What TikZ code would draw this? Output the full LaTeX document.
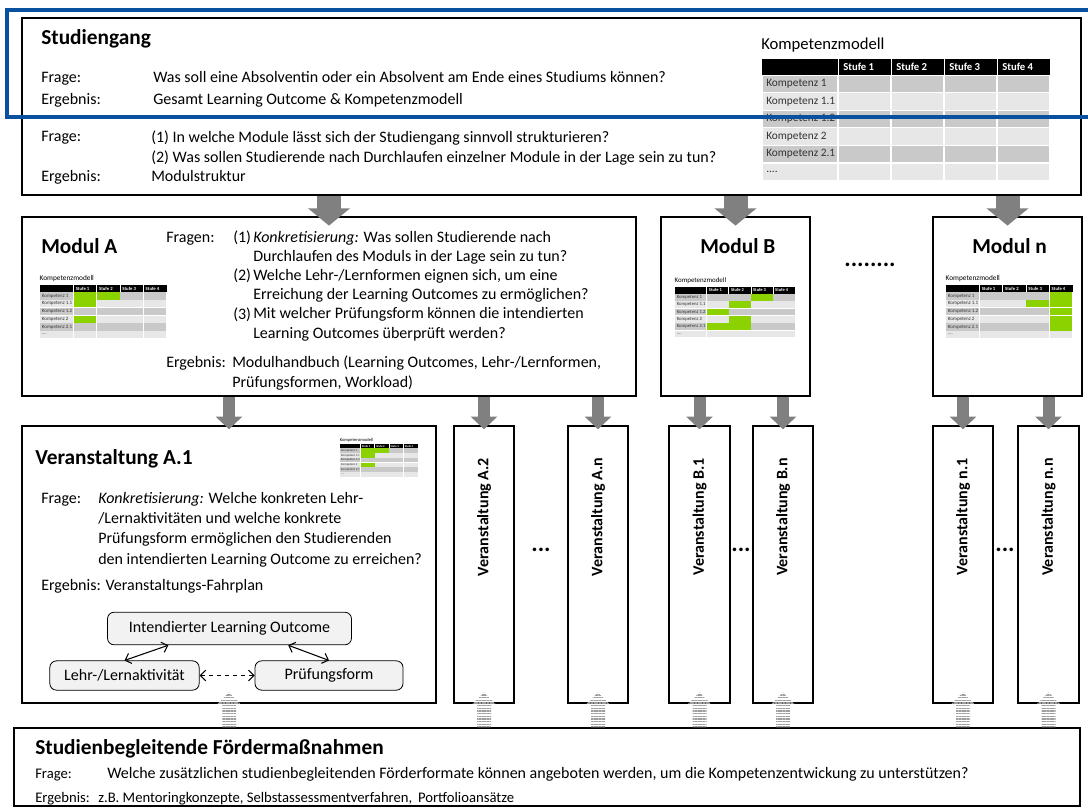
\documentclass[tikz,border=0pt]{standalone}
\usepackage{fontspec}
\setmainfont{Carlito}
\usepackage{tikz}
\usetikzlibrary{positioning, arrows.meta, fit, calc, patterns.meta}
\definecolor{pfeilgrau}{RGB}{128,128,128}
\definecolor{zelleDunkel}{RGB}{201,201,201}
\definecolor{zelleHell}{RGB}{231,231,231}
\definecolor{gruen}{RGB}{140,210,0}
\definecolor{blaurand}{RGB}{10,80,160}
\tikzset{
    kasten/.style     = {draw, line width=1.1pt, inner sep=0pt},
    txt/.style        = {inner sep=0pt, anchor=base west, align=left,
                         font=\fontsize{12}{14.4}\selectfont},
    klein/.style      = {txt, font=\fontsize{11}{13}\selectfont},
    titel/.style      = {inner sep=0pt, anchor=base west,
                         font=\bfseries\fontsize{16}{19}\selectfont},
    hochkant/.style   = {inner sep=0pt, rotate=90,
                         font=\bfseries\fontsize{12}{14}\selectfont},
    punkte/.style     = {inner sep=0pt, font=\bfseries\fontsize{18}{18}\selectfont},
    grosspfeil/.style = {draw=pfeilgrau, line width=18pt,
                         -{Triangle[length=13pt, width=31pt]}, shorten >=-7pt},
    kleinpfeil/.style = {draw=pfeilgrau, line width=9pt,
                         -{Triangle[length=9.5pt, width=19.5pt]}, shorten >=-3pt},
    streifen/.style   = {pattern={Lines[angle=0, distance=2pt, line width=1.1pt]},
                         pattern color=black!38},
    rund/.style       = {draw, rounded corners=5pt, fill=black!5, line width=0.6pt,
                         font=\fontsize{12}{14}\selectfont},
    wechsel/.style    = {{Straight Barb[length=4pt]}-{Straight Barb[length=4pt]}, line width=0.8pt}
}
\newcommand{\punktzeile}{....}
% Kompetenzmodell-Tabelle: Position, Skalierung, gruene Zellen (zeile/spalte)
\newcommand{\kompmodell}[3]{%
  \begin{scope}[shift={(#1)}, scale=#2, transform shape]
    \node[anchor=base west, inner sep=0pt, font=\fontsize{12.5}{14}\selectfont] (km) at (-1,-10) {Kompetenzmodell};
    \fill[black] (0,0) rectangle (288,16);
    \foreach \spalte in {1,2,3,4} {
      \draw[white, line width=0.6pt] ({76+(\spalte-1)*53},0) -- ++(0,16);
      \node[anchor=west, inner sep=0pt, text=white, font=\bfseries\fontsize{8}{9}\selectfont]
        at ({76+(\spalte-1)*53+5},8) {Stufe \spalte};
    }
    \foreach \lab [count=\zeile] in {Kompetenz 1, Kompetenz 1.1, Kompetenz 1.2, Kompetenz 2, Kompetenz 2.1, \punktzeile} {
      \ifodd\zeile \def\zf{zelleDunkel}\else \def\zf{zelleHell}\fi
      \fill[fill=\zf] (0.6,{16+(\zeile-1)*17.6+0.6}) rectangle (75.4,{16+\zeile*17.6-0.6});
      \foreach \spalte in {1,2,3,4}
        \fill[fill=\zf] ({76+(\spalte-1)*53+0.6},{16+(\zeile-1)*17.6+0.6}) rectangle ({76+\spalte*53-0.6},{16+\zeile*17.6-0.6});
      \node[anchor=west, inner sep=0pt, text=black!80, font=\fontsize{8.5}{9}\selectfont]
        at (4,{16+(\zeile-0.5)*17.6}) {\lab};
    }
    \if\relax\detokenize{#3}\relax\else
    \foreach \zeile/\spalte in {#3}
      \fill[gruen] ({76+(\spalte-1)*53+0.6},{16+(\zeile-1)*17.6+0.6}) rectangle ({76+\spalte*53-0.6},{16+\zeile*17.6-0.6});
    \fi
  \end{scope}}

\begin{document}
\begin{tikzpicture}[x=0.75pt, y=-0.75pt]
    \useasboundingbox (0,0) rectangle (1088,807);

    % Studiengang
    \node[kasten, fit={(22,18) (1081,195)}] (studiengang) {};
    \node[titel] (tStudiengang) at (41,44) {Studiengang};
    \node[txt] (fr1) at (41,82)  {Frage:};
    \node[txt] (er1) at (41,104) {Ergebnis:};
    \node[txt] (fr1t) at (153,82)  {Was soll eine Absolventin oder ein Absolvent am Ende eines Studiums können?};
    \node[txt] (er1t) at (153,104) {Gesamt Learning Outcome \& Kompetenzmodell};
    \node[txt] (fr2) at (41,141) {Frage:};
    \node[txt] (er2) at (41,181) {Ergebnis:};
    % Basis eines mehrzeiligen Knotens = letzte Zeile
    \node[txt, font=\fontsize{12}{15}\selectfont] (fr2t) at (151,162)
        {(1) In welche Module lässt sich der Studiengang sinnvoll strukturieren?\\
         (2) Was sollen Studierende nach Durchlaufen einzelner Module in der Lage sein zu tun?};
    \node[txt] (er2t) at (151,181) {Modulstruktur};
    \kompmodell{762,59}{1}{}

    % Modul A
    \node[kasten, fit={(22,217) (636,396)}] (modulA) {};
    \node[titel] (tModulA) at (41,253) {Modul A};
    \kompmodell{40,285}{0.44}{1/1,1/2,2/1,4/1}
    \node[txt] (frA) at (166,242) {Fragen:};
    \node[txt] (nrA) at (233,319) {(1)\\ \\(2)\\ \\(3)};
    \node[txt] (frAt) at (253,338)
        {\textit{Konkretisierung:} Was sollen Studierende nach\\
         Durchlaufen des Moduls in der Lage sein zu tun?\\
         Welche Lehr-/Lernformen eignen sich, um eine\\
         Erreichung der Learning Outcomes zu ermöglichen?\\
         Mit welcher Prüfungsform können die intendierten\\
         Learning Outcomes überprüft werden?};
    \node[txt] (erA) at (166,367) {Ergebnis:};
    \node[txt, font=\fontsize{12}{15}\selectfont] (erAt) at (232,387)
        {Modulhandbuch (Learning Outcomes, Lehr-/Lernformen,\\Prüfungsformen, Workload)};

    % Modul B und Modul n
    \node[kasten, fit={(661,217) (810,396)}] (modulB) {};
    \node[titel] (tModulB) at (700,253) {Modul B};
    \kompmodell{675,287}{0.417}{1/3,2/2,3/1,4/2,5/1,5/2}
    \node[punkte] (pktMod) at (870,265) {........};
    \node[kasten, fit={(933,217) (1082,396)}] (moduln) {};
    \node[titel] (tModuln) at (972,253) {Modul n};
    \kompmodell{946,285}{0.44}{1/4,2/3,2/4,3/4,4/4,5/4}

    % Veranstaltung A.1
    \node[kasten, fit={(22,426) (436,703)}] (va1) {};
    \node[titel] (tVa1) at (35,464) {Veranstaltung A.1};
    \kompmodell{340,444}{0.27}{1/1,1/2,2/1,4/1}
    \node[txt] (frV) at (41,503) {Frage:};
    \node[txt, font=\fontsize{12}{15.2}\selectfont] (frVt) at (98,564)
        {\textit{Konkretisierung:} Welche konkreten Lehr-\\
         /Lernaktivitäten und welche konkrete\\
         Prüfungsform ermöglichen den Studierenden\\
         den intendierten Learning Outcome zu erreichen?};
    \node[txt] (erV) at (41,590) {Ergebnis: Veranstaltungs-Fahrplan};
    \node[rund, minimum width=183pt, minimum height=24.5pt] (lo)   at (229.5,628.5) {Intendierter Learning Outcome};
    \node[rund, minimum width=112pt, minimum height=22pt]   (lehr) at (124.5,675.5) {Lehr-/Lernaktivität};
    \node[rund, minimum width=111pt, minimum height=22pt]   (prf)  at (329,675.5)   {Prüfungsform};
    \draw[wechsel] (lehr.north) -- ($(lo.south west)!0.25!(lo.south east)$);
    \draw[wechsel] ($(lo.south west)!0.74!(lo.south east)$) -- (prf.north);
    \draw[wechsel, dashed] (lehr.east) -- (prf.west);

    % weitere Veranstaltungen
    \node[kasten, fit={(454,426) (514,703)}]  (va2) {};
    \node[kasten, fit={(568,426) (628,703)}]  (van) {};
    \node[kasten, fit={(669,426) (730,703)}]  (vb1) {};
    \node[kasten, fit={(753,426) (813,703)}]  (vbn) {};
    \node[kasten, fit={(933,426) (993,703)}]  (vn1) {};
    \node[kasten, fit={(1018,426) (1079,703)}] (vnn) {};
    \node[hochkant] at (va2.center |- 0,517) {Veranstaltung A.2};
    \node[hochkant] at (van.center |- 0,517) {Veranstaltung A.n};
    \node[hochkant] at (vb1.center |- 0,517) {Veranstaltung B.1};
    \node[hochkant] at (vbn.center |- 0,517) {Veranstaltung B.n};
    \node[hochkant] at (vn1.center |- 0,517) {Veranstaltung n.1};
    \node[hochkant] at (vnn.center |- 0,517) {Veranstaltung n.n};
    \node[punkte] (pktA) at (541,550)  {...};
    \node[punkte] (pktB) at (741,550)  {...};
    \node[punkte] (pktN) at (1005,550) {...};

    % Studienbegleitende Foerdermassnahmen
    \node[kasten, fit={(14,728) (1080,806)}] (foerder) {};
    \node[titel] (tFoerder) at (35,754) {Studienbegleitende Fördermaßnahmen};
    \node[klein] (frF) at (35,778) {Frage:};
    \node[txt] (frFt) at (107,778)
        {Welche zusätzlichen studienbegleitenden Förderformate können angeboten werden, um die Kompetenzentwickung zu unterstützen?};
    \node[klein] (erF) at (35,802) {Ergebnis:};
    \node[klein] (erFt) at (98,802) {z.B. Mentoringkonzepte, Selbstassessmentverfahren,\, Portfolioansätze};

    % Pfeile Studiengang -> Module
    \draw[grosspfeil] (studiengang.south -| modulA.north) -- (modulA.north);
    \draw[grosspfeil] (studiengang.south -| modulB.north) -- (modulB.north);
    \draw[grosspfeil] (studiengang.south -| moduln.north) -- (moduln.north);

    % Pfeile Module -> Veranstaltungen
    \draw[kleinpfeil] (modulA.south -| va1.north) -- (va1.north);
    \draw[kleinpfeil] (modulA.south -| va2.north) -- (va2.north);
    \draw[kleinpfeil] (modulA.south -| van.north) -- (van.north);
    \draw[kleinpfeil] (modulB.south -| vb1.north) -- (vb1.north);
    \draw[kleinpfeil] (modulB.south -| vbn.north) -- (vbn.north);
    \draw[kleinpfeil] (moduln.south -| vn1.north) -- (vn1.north);
    \draw[kleinpfeil] (moduln.south -| vnn.north) -- (vnn.north);

    % Foerderpfeile nach oben
    \foreach \ziel in {va1, va2, van, vb1, vbn, vn1, vnn}
        \fill[streifen] (foerder.north -| \ziel.south) ++(-7,0) -- ++(0,-23) -- ++(-5,0)
            -- ++(12,-12) -- ++(12,12) -- ++(-5,0) -- ++(0,23) -- cycle;

    % Rahmen Studiengangsebene
    \draw[blaurand, line width=2.3pt] (7,10) rectangle (1095,117);
\end{tikzpicture}
\end{document}
